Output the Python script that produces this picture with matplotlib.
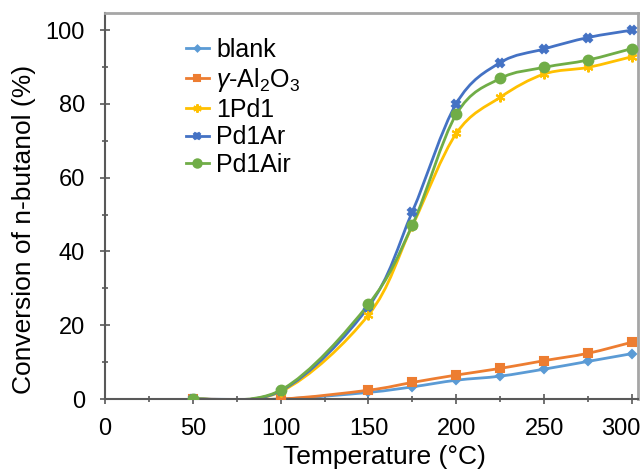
import numpy as np
import matplotlib
matplotlib.use('Agg')
import matplotlib.pyplot as plt
from matplotlib.path import Path
from matplotlib.patches import PathPatch
from matplotlib.lines import Line2D
from matplotlib.transforms import ScaledTranslation

plt.rcParams['font.family'] = ['Liberation Sans', 'DejaVu Sans']
plt.rcParams['mathtext.fontset'] = 'custom'
plt.rcParams['mathtext.rm'] = 'Liberation Sans'
plt.rcParams['mathtext.it'] = 'Liberation Sans:italic'

# data
temperature = [50, 100, 150, 175, 200, 225, 250, 275, 300]
blank = [0, 0, 1.8, 3.3, 5.1, 6.2, 8.1, 10.2, 12.3]
al2o3 = [0, 0, 2.4, 4.5, 6.5, 8.3, 10.4, 12.4, 15.4]
pd1_1 = [0, 2.0, 22.8, 47.0, 72.0, 81.8, 88.1, 89.9, 92.8]
pd1_ar = [0, 2.2, 25.0, 50.8, 80.1, 91.2, 94.9, 98.0, 100.0]
pd1_air = [0, 2.4, 25.7, 47.2, 77.2, 86.9, 89.9, 91.9, 95.0]

series = [
    ('blank', blank, '#5B9BD5', 'D', 4),
    (r'$\gamma$-Al$_2$O$_3$', al2o3, '#ED7D31', 's', 6),
    ('1Pd1', pd1_1, '#FFC000', (6, 2, 0), 7),
    ('Pd1Ar', pd1_ar, '#4472C4', 'X', 6),
    ('Pd1Air', pd1_air, '#70AD47', 'o', 7),
]


def smooth_path(x, y):
    # Excel-style smoothed line drawn as cubic Bezier segments
    pts = np.column_stack([x, y]).astype(float)
    n = len(pts)
    verts = [pts[0]]
    codes = [Path.MOVETO]
    for i in range(n - 1):
        p0 = pts[i - 1] if i > 0 else pts[i]
        p1 = pts[i]
        p2 = pts[i + 1]
        p3 = pts[i + 2] if i + 2 < n else pts[i + 1]
        c1 = p1 + (p2 - p0) / 6.0
        c2 = p2 - (p3 - p1) / 6.0
        verts += [c1, c2, p2]
        codes += [Path.CURVE4] * 3
    return Path(verts, codes)


fig = plt.figure(figsize=(6.42, 4.70), dpi=100)
ax = fig.add_axes([0.1636, 0.151, 0.830, 0.821])

handles = []
for label, vals, color, marker, ms in series:
    ax.add_patch(PathPatch(smooth_path(temperature, vals), facecolor='none',
                           edgecolor=color, lw=2, zorder=2))
    ax.plot(temperature, vals, ls='none', marker=marker, ms=ms, color=color,
            mec=color, mew=1.5, zorder=3)
    handles.append(Line2D([], [], color=color, lw=2, marker=marker, ms=ms - 1,
                          mec=color, mew=1.5, label=label))

ax.set_xlim(0, 303.4)
ax.set_ylim(0, 104.6)
ax.set_xticks(range(0, 301, 50))
ax.set_xticks(range(0, 301, 25), minor=True)
ax.set_yticks(range(0, 101, 20))
ax.set_yticks(range(0, 101, 10), minor=True)
ax.tick_params(axis='both', which='major', direction='inout', length=7,
               width=1.2, color='#595959', labelsize=17)
ax.tick_params(axis='both', which='minor', direction='inout', length=5,
               width=1.2, color='#595959')
ax.tick_params(axis='x', pad=10)
ax.tick_params(axis='y', pad=11)

# last x label sits flush with the right edge, as in the source
last = ax.get_xticklabels()[-1]
last.set_ha('right')
last.set_transform(last.get_transform() + ScaledTranslation(6 / 72, 0, fig.dpi_scale_trans))

for s in ['left', 'bottom']:
    ax.spines[s].set_color('#595959')
    ax.spines[s].set_linewidth(1.5)
for s in ['top', 'right']:
    ax.spines[s].set_color('#A6A6A6')
    ax.spines[s].set_linewidth(2)

ax.set_xlabel('Temperature (°C)', fontsize=19, labelpad=4)
ax.set_ylabel('Conversion of n-butanol (%)', fontsize=19, labelpad=7)
ax.xaxis.label.set_x(0.524)
ax.yaxis.label.set_y(0.44)

ax.legend(handles=handles, loc='upper left', bbox_to_anchor=(0.152, 0.935),
          frameon=False, fontsize=18, handlelength=0.9, handletextpad=0.3,
          labelspacing=0.15, borderaxespad=0, borderpad=0)

fig.savefig('out.png', dpi=100)
